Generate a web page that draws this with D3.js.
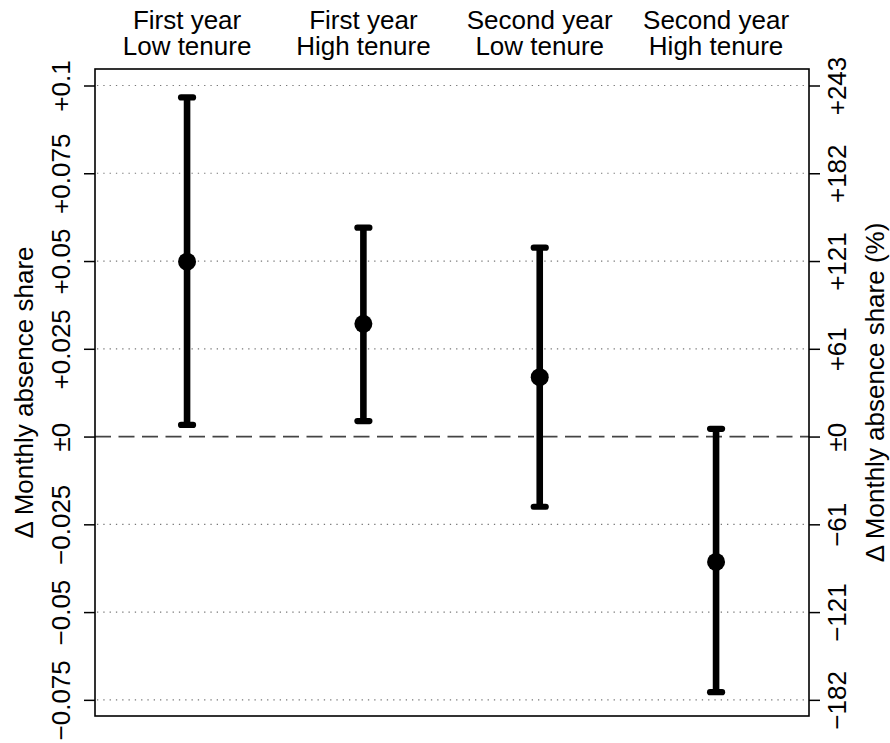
<!DOCTYPE html>
<html>
<head>
<meta charset="utf-8">
<script src="https://cdn.jsdelivr.net/npm/d3@7/dist/d3.min.js"></script>
<style>
  html, body { margin: 0; padding: 0; background: #fff; }
  svg { display: block; font-family: "Liberation Sans", Arial, Helvetica, sans-serif; }
</style>
</head>
<body>
<svg id="chart" width="890" height="743"></svg>
<script>
// Groups (two-line headers above the panel)
const groupYear   = ["First year", "First year", "Second year", "Second year"];
const groupTenure = ["Low tenure", "High tenure", "Low tenure", "High tenure"];
const groupPos    = [1, 2, 3, 4];

// Point estimates and confidence bounds (change in monthly absence share)
const estimate = [0.0498, 0.0321, 0.0169, -0.0357];
const lower    = [0.0033, 0.0044, -0.0200, -0.0728];
const upper    = [0.0966, 0.0595, 0.0538, 0.0022];

// Axis ticks: left in share units, right in percent
const tickValues  = [0.1, 0.075, 0.05, 0.025, 0, -0.025, -0.05, -0.075];
const leftLabels  = ["+0.1", "+0.075", "+0.05", "+0.025", "±0", "−0.025", "−0.05", "−0.075"];
const rightLabels = ["+243", "+182", "+121", "+61", "±0", "−61", "−121", "−182"];

const svg = d3.select("#chart");
const box = { left: 95, right: 809, top: 69, bottom: 716 };
const FONT = 26;

const x = d3.scaleLinear().domain([0.478, 4.527]).range([box.left, box.right]);
const y = d3.scaleLinear().domain([-0.0796, 0.1047]).range([box.bottom, box.top]);

// dotted horizontal reference lines
svg.append("g").selectAll("line")
  .data(tickValues.filter(v => v !== 0))
  .join("line")
  .attr("x1", box.left + 2).attr("x2", box.right - 2)
  .attr("y1", d => y(d)).attr("y2", d => y(d))
  .attr("stroke", "#777").attr("stroke-width", 1.2)
  .attr("stroke-dasharray", "1.3,5");

// dashed zero line
svg.append("line")
  .attr("x1", box.left).attr("x2", box.right)
  .attr("y1", y(0)).attr("y2", y(0))
  .attr("stroke", "#444").attr("stroke-width", 1.8)
  .attr("stroke-dasharray", "16,7.5");

// error bars
const bars = svg.append("g");
groupPos.forEach((p, i) => {
  bars.append("line")
    .attr("x1", x(p)).attr("x2", x(p))
    .attr("y1", y(lower[i])).attr("y2", y(upper[i]))
    .attr("stroke", "#000").attr("stroke-width", 6.6);
  [lower[i], upper[i]].forEach(v => {
    bars.append("line")
      .attr("x1", x(p) - 6).attr("x2", x(p) + 6)
      .attr("y1", y(v)).attr("y2", y(v))
      .attr("stroke", "#000").attr("stroke-width", 6.2)
      .attr("stroke-linecap", "round");
  });
  bars.append("circle")
    .attr("cx", x(p)).attr("cy", y(estimate[i]))
    .attr("r", 9).attr("fill", "#000");
});

// panel frame
svg.append("rect")
  .attr("x", box.left).attr("y", box.top)
  .attr("width", box.right - box.left).attr("height", box.bottom - box.top)
  .attr("fill", "none").attr("stroke", "#000").attr("stroke-width", 1.6);

// left axis
const gl = svg.append("g").attr("transform", `translate(${box.left},0)`)
  .call(d3.axisLeft(y).tickValues(tickValues).tickSize(11)
    .tickFormat((d, i) => leftLabels[i]));
gl.select(".domain").remove();
gl.selectAll(".tick line").attr("stroke", "#000").attr("stroke-width", 1.5);
gl.selectAll(".tick text")
  .attr("x", null).attr("dy", null)
  .attr("text-anchor", "middle")
  .attr("transform", "translate(-25,0) rotate(-90)")
  .attr("font-size", FONT).attr("fill", "#000")
  .attr("font-family", "Liberation Sans, Arial, Helvetica, sans-serif");

// right axis
const gr = svg.append("g").attr("transform", `translate(${box.right},0)`)
  .call(d3.axisRight(y).tickValues(tickValues).tickSize(11)
    .tickFormat((d, i) => rightLabels[i]));
gr.select(".domain").remove();
gr.selectAll(".tick line").attr("stroke", "#000").attr("stroke-width", 1.5);
gr.selectAll(".tick text")
  .attr("x", null).attr("dy", null)
  .attr("text-anchor", "middle")
  .attr("transform", "translate(37,0) rotate(-90)")
  .attr("font-size", FONT).attr("fill", "#000")
  .attr("font-family", "Liberation Sans, Arial, Helvetica, sans-serif");

// axis titles
const midY = (box.top + box.bottom) / 2;
svg.append("text")
  .attr("transform", `translate(33,${midY}) rotate(-90)`)
  .attr("text-anchor", "middle").attr("font-size", FONT)
  .text("Δ Monthly absence share");
svg.append("text")
  .attr("transform", `translate(884,${midY}) rotate(-90)`)
  .attr("text-anchor", "middle").attr("font-size", FONT)
  .text("Δ Monthly absence share (%)");

// group headers
const hdr = svg.append("g").attr("text-anchor", "middle").attr("font-size", FONT);
groupPos.forEach((p, i) => {
  hdr.append("text").attr("x", x(p)).attr("y", 29).text(groupYear[i]);
  hdr.append("text").attr("x", x(p)).attr("y", 55).text(groupTenure[i]);
});
</script>
</body>
</html>
